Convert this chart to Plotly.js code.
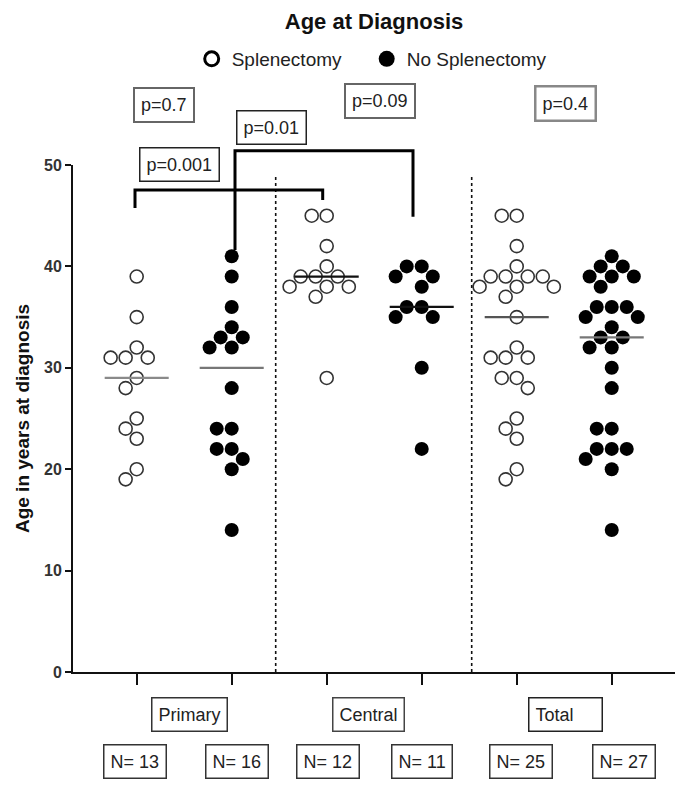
<!DOCTYPE html>
<html><head><meta charset="utf-8">
<script src="https://cdn.plot.ly/plotly-3.0.1.min.js"></script>
<style>html,body{margin:0;padding:0;background:#fff}</style>
</head><body><div id="chart" style="width:687px;height:791px"></div>
<script>
// ---- data ----
const groupLabels = ["Primary", "Central", "Total"];
const seriesNames = ["Splenectomy", "No Splenectomy"];
const primarySplen   = [39, 35, 32, 31, 31, 31, 29, 28, 25, 24, 23, 20, 19];
const primaryNoSplen = [41, 39, 36, 34, 33, 33, 32, 32, 28, 24, 24, 22, 22, 21, 20, 14];
const centralSplen   = [45, 45, 42, 40, 39, 39, 39, 38, 38, 38, 37, 29];
const centralNoSplen = [40, 40, 39, 39, 38, 36, 36, 35, 35, 30, 22];
const totalSplen     = primarySplen.concat(centralSplen);
const totalNoSplen   = primaryNoSplen.concat(centralNoSplen);
const pLabels = ["p=0.7", "p=0.01", "p=0.001", "p=0.09", "p=0.4"];
const yTicks = [0, 10, 20, 30, 40, 50];

const columns = [primarySplen, primaryNoSplen, centralSplen, centralNoSplen, totalSplen, totalNoSplen];
const isOpen  = [true, false, true, false, true, false];

// ---- geometry ----
const W = 687, H = 791;
const margin = {l: 73, r: 12, t: 165, b: 119};
const plotW = W - margin.l - margin.r, plotH = H - margin.t - margin.b;
const xRange = [-0.6705, 5.666];
const yRange = [0, 50];
const pxPerX = plotW / (xRange[1] - xRange[0]);
const pxPerY = plotH / (yRange[1] - yRange[0]);

function median(a) {
  const s = a.slice().sort((p, q) => p - q), n = s.length;
  return n % 2 ? s[(n - 1) / 2] : (s[n / 2 - 1] + s[n / 2]) / 2;
}

// simple beeswarm: spread points horizontally so markers do not overlap
function swarm(vals, D) {
  const order = vals.map((v, i) => i).sort((a, b) => vals[b] - vals[a]);
  const placed = [], off = new Array(vals.length);
  order.forEach(i => {
    const y = vals[i] * pxPerY;
    const cands = [0];
    placed.forEach(p => {
      const dy = Math.abs(p.y - y);
      if (dy < D) { const dx = Math.sqrt(D * D - dy * dy); cands.push(p.x + dx, p.x - dx); }
    });
    cands.sort((a, b) => Math.abs(a) - Math.abs(b) || a - b);
    let chosen = 0;
    for (const c of cands) {
      if (placed.every(p => (p.x - c) ** 2 + (p.y - y) ** 2 >= D * D - 0.01)) { chosen = c; break; }
    }
    placed.push({x: chosen, y: y});
    off[i] = chosen / pxPerX;
  });
  return off;
}

const openMarker = {symbol: 'circle-open', size: 13, color: '#333', line: {width: 1.6, color: '#333'}};
const fillMarker = {symbol: 'circle', size: 14, color: '#000', line: {width: 0}};
const medianColors = ['#8a8a8a', '#777', '#111', '#111', '#555', '#777'];

const traces = [];
columns.forEach((vals, k) => {
  const off = swarm(vals, 15);
  traces.push({
    type: 'scatter', mode: 'markers', showlegend: false, hoverinfo: 'y',
    x: vals.map((v, i) => k + off[i]), y: vals,
    marker: isOpen[k] ? openMarker : fillMarker, cliponaxis: false
  });
});
columns.forEach((vals, k) => {
  const m = median(vals);
  traces.push({
    type: 'scatter', mode: 'lines', showlegend: false, hoverinfo: 'skip',
    x: [k - 0.337, k + 0.337], y: [m, m],
    line: {color: medianColors[k], width: 2.3}
  });
});
// legend entries
traces.push({type: 'scatter', mode: 'markers', name: seriesNames[0], x: [null], y: [null], legendwidth: 130,
  marker: {symbol: 'circle-open', size: 14, color: '#000', line: {width: 3, color: '#000'}}});
traces.push({type: 'scatter', mode: 'markers', name: seriesNames[1], x: [null], y: [null], legendwidth: 170,
  marker: {symbol: 'circle', size: 16, color: '#000'}});

const X = px => (px - 136.7) / pxPerX;          // pixel -> x data
const PY = py => (H - margin.b - py) / plotH;   // pixel -> paper y

const shapes = [
  // dotted separators
  {type: 'line', xref: 'x', yref: 'paper', x0: X(275.7), x1: X(275.7), y0: 0, y1: PY(177),
   line: {color: '#111', width: 1.6, dash: 'dot'}},
  {type: 'line', xref: 'x', yref: 'paper', x0: X(471.7), x1: X(471.7), y0: 0, y1: PY(177),
   line: {color: '#111', width: 1.6, dash: 'dot'}},
  // p=0.001 bracket (Primary splen vs Central splen)
  {type: 'path', xref: 'x', yref: 'paper',
   path: `M ${X(135)},${PY(208)} L ${X(135)},${PY(190)} L ${X(322.7)},${PY(190)} L ${X(322.7)},${PY(200)}`,
   line: {color: '#000', width: 3}},
  // p=0.01 bracket (Primary no splen vs Central no splen)
  {type: 'path', xref: 'x', yref: 'paper',
   path: `M ${X(235)},${PY(250)} L ${X(235)},${PY(150.7)} L ${X(413)},${PY(150.7)} L ${X(413)},${PY(216.7)}`,
   line: {color: '#000', width: 3}}
];

function box(text, cx, cy, border, bw, extra) {
  return Object.assign({xref: 'x', yref: 'paper', x: X(cx), y: PY(cy), text: text, showarrow: false,
    bordercolor: border, borderwidth: bw, borderpad: 6, bgcolor: '#fff',
    font: {size: 18, color: '#222'}, xanchor: 'center', yanchor: 'middle'}, extra || {});
}

const annotations = [
  box(pLabels[0], 163.5, 105, '#666', 2),
  box(pLabels[1], 271.9, 127, '#222', 1.5),
  box(pLabels[2], 179, 164.5, '#222', 1.5),
  box(pLabels[3], 379.5, 101, '#666', 2),
  box(pLabels[4], 565.5, 103.5, '#888', 2.5),
  box(groupLabels[0], 189, 714, '#333', 1.5),
  box(groupLabels[1], 368.5, 714, '#444', 1.5),
  box(groupLabels[2], 565.5, 714, '#222', 1.5, {width: 60, align: 'left'}),
];
const nCenters = [134.5, 236.6, 327.5, 421.5, 521.2, 623.8];
columns.forEach((vals, k) => {
  annotations.push(box('N= ' + vals.length, nCenters[k], 761.5, '#333', 1.5));
});

const layout = {
  width: W, height: H, margin: margin,
  paper_bgcolor: '#fff', plot_bgcolor: '#fff',
  font: {family: 'Liberation Sans, Arial, sans-serif', color: '#222', size: 18},
  title: {text: '<b>Age at Diagnosis</b>', x: 0.5, xref: 'paper', xanchor: 'center',
          y: 1 - 21.7 / H, yref: 'container', yanchor: 'middle', font: {size: 22, color: '#111'}},
  showlegend: true,
  legend: {orientation: 'h', x: (191.7 - margin.l) / plotW, y: PY(40), xanchor: 'left', yanchor: 'top',
           font: {size: 19, color: '#222'},
           bgcolor: 'rgba(0,0,0,0)', borderwidth: 0},
  xaxis: {range: xRange, showgrid: false, zeroline: false, showline: true, linewidth: 2, linecolor: '#111',
          ticks: 'outside', ticklen: 11, tickwidth: 2, tickcolor: '#111',
          tickvals: [0, 1, 2, 3, 4, 5], showticklabels: false, fixedrange: true},
  yaxis: {range: yRange, tickvals: yTicks, showgrid: false, zeroline: false, showline: true,
          linewidth: 2, linecolor: '#111', ticks: 'outside', ticklen: 6, tickwidth: 2, tickcolor: '#111',
          tickfont: {size: 16, color: '#333', weight: 'bold'}, fixedrange: true,
          title: {text: '<b>Age in years at diagnosis</b>', font: {size: 19, color: '#111'}, standoff: 9}},
  shapes: shapes, annotations: annotations
};

Plotly.newPlot('chart', traces, layout, {displayModeBar: false, staticPlot: true});
</script>
</body></html>
